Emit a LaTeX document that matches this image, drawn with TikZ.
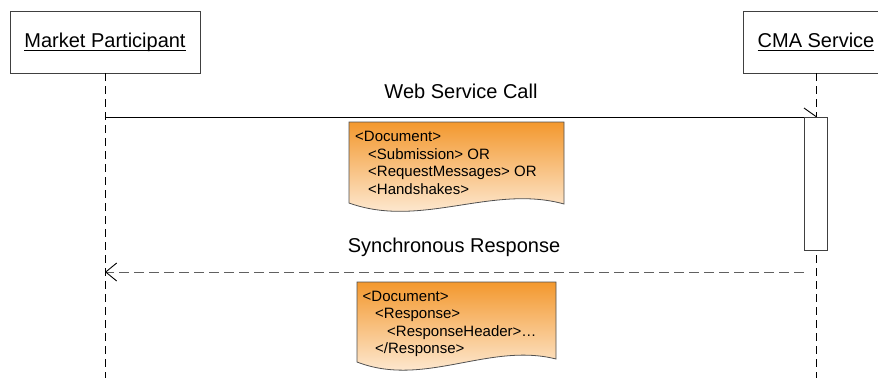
\documentclass[tikz,border=0pt]{standalone}
\usepackage{fontspec}
\setmainfont{Liberation Sans}
\usetikzlibrary{arrows.meta}
\definecolor{docorange}{RGB}{243,152,46}
\definecolor{docwhite}{RGB}{255,247,238}
\definecolor{boxline}{RGB}{64,64,64}
\definecolor{docline}{RGB}{80,80,80}
\definecolor{retline}{RGB}{96,96,96}
\newcommand\myul[1]{\setbox0\hbox{#1}\rlap{\rule[-3.4pt]{\wd0}{0.9pt}}\box0}
\tikzset{
  actorbox/.style={draw=boxline, line width=0.9pt, fill=white, inner sep=0pt,
    minimum height=62pt, text height=14pt, text depth=4pt, font=\fontsize{20}{24}\selectfont},
  lifeline/.style={draw=black, line width=0.9pt, dash pattern=on 8pt off 5pt},
  msgline/.style={draw=black, line width=0.9pt},
  retmsg/.style={draw=retline, line width=1pt, dash pattern=on 10pt off 5pt,
    -{Straight Barb[length=11pt,width=18pt,line width=0.9pt,color=black]}},
  actbar/.style={draw=boxline, line width=0.9pt, fill=white, inner sep=0pt,
    minimum width=23pt, minimum height=133pt},
  msglabel/.style={anchor=base, inner sep=0pt, font=\fontsize{20}{24}\selectfont},
  docshape/.style={draw=docline, line width=0.8pt, top color=docorange, bottom color=docwhite},
  doctext/.style={anchor=base west, inner sep=0pt, font=\fontsize{15}{17}\selectfont},
}
\begin{document}
\begin{tikzpicture}[x=1pt,y=-1pt]
\useasboundingbox (0,0) rectangle (878,378);
% lifeline ends
\coordinate (mpend) at (105,378);
\coordinate (cmaend) at (816,378);
% actors
\node[actorbox, minimum width=190pt] (mp) at (105,42) {\myul{Market Participant}};
\node[actorbox, minimum width=146pt] (cma) at (816,42) {\myul{CMA Service}};
% lifelines
\draw[lifeline] (mp.south) -- (mpend);
\draw[lifeline] (cma.south) -- (cmaend);
% call message
\coordinate (callS) at (105,117);
\coordinate (callE) at (816,117);
\draw[msgline] (callS) -- (callE);
\node[actbar] (act) at (815.5,183.5) {};
\coordinate (tick) at (804,108);
\draw[msgline] (tick) -- (act.north -| callE);
\node[msglabel] (lcall) at (461,98) {Web Service Call};
% document 1
\path[docshape] (349,122) -- (564,122) -- (564,204)
  .. controls (492,184) and (421,229) .. (349,203) -- cycle;
\node[doctext] (d1a) at (355,141.5) {<Document>};
\node[doctext] (d1b) at (368,159) {<Submission> OR};
\node[doctext] (d1c) at (368,176.5) {<RequestMessages> OR};
\node[doctext] (d1d) at (368,194) {<Handshakes>};
% return message
\node[msglabel] (lret) at (454,252) {Synchronous Response};
\coordinate (retS) at (804,272);
\coordinate (retE) at (105,272);
\draw[retmsg] (retS) -- (retE);
% document 2
\path[docshape] (357,282) -- (556,282) -- (556,359)
  .. controls (489,342) and (424,388) .. (357,362) -- cycle;
\node[doctext] (d2a) at (362.5,301) {<Document>};
\node[doctext] (d2b) at (375,318.5) {<Response>};
\node[doctext] (d2c) at (387,336) {<ResponseHeader>…};
\node[doctext] (d2d) at (375,353.5) {</Response>};
\end{tikzpicture}
\end{document}
